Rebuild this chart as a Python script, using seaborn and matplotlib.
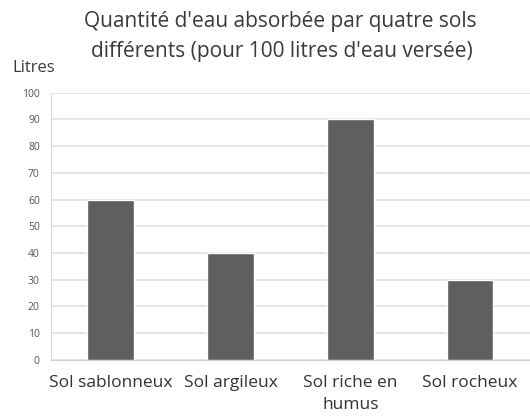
import pandas as pd
import seaborn as sns
import matplotlib
matplotlib.use("Agg")
import matplotlib.pyplot as plt

# Data
sols = ["Sol sablonneux", "Sol argileux", "Sol riche en\nhumus", "Sol rocheux"]
litres = [60, 40, 90, 30]
yticks = list(range(0, 101, 10))

df = pd.DataFrame({"sol": sols, "litres": litres})

sns.set_style("white")
plt.rcParams['font.family'] = ['Open Sans', 'DejaVu Sans']

fig = plt.figure(figsize=(5.30, 4.16), dpi=100)
ax = fig.add_axes([0.096, 0.135, 0.904, 0.642])

sns.barplot(data=df, x="sol", y="litres", color="#5f5f5f", width=0.39,
            saturation=1, ax=ax, zorder=3)

ax.set_ylim(0, 100)
ax.set_yticks(yticks)
ax.set_yticklabels([str(t) for t in yticks], fontsize=7.5, color="#555555")
ax.tick_params(axis="x", labelsize=12.5, colors="#333333", length=0, pad=11)
ax.tick_params(axis="y", length=0, pad=8)
ax.grid(axis="y", color="#e2e2e2", linewidth=1.2, zorder=0)
ax.set_axisbelow(True)
ax.set_xlabel("")
ax.set_ylabel("")
for lbl in ax.get_xticklabels():
    lbl.set_linespacing(1.45)

for s in ["top", "right"]:
    ax.spines[s].set_visible(False)
ax.spines["left"].set_color("#d8d8d8")
ax.spines["bottom"].set_color("#cfcfcf")

fig.text(0.528, 0.948, "Quantité d'eau absorbée par quatre sols", ha="center", va="center",
         fontsize=15, color="#3a3a3a")
fig.text(0.532, 0.877, "différents (pour 100 litres d'eau versée)", ha="center", va="center",
         fontsize=15, color="#3a3a3a")
fig.text(0.024, 0.836, "Litres", ha="left", va="center", fontsize=12, color="#3a3a3a")

fig.savefig("out.png", dpi=100)
